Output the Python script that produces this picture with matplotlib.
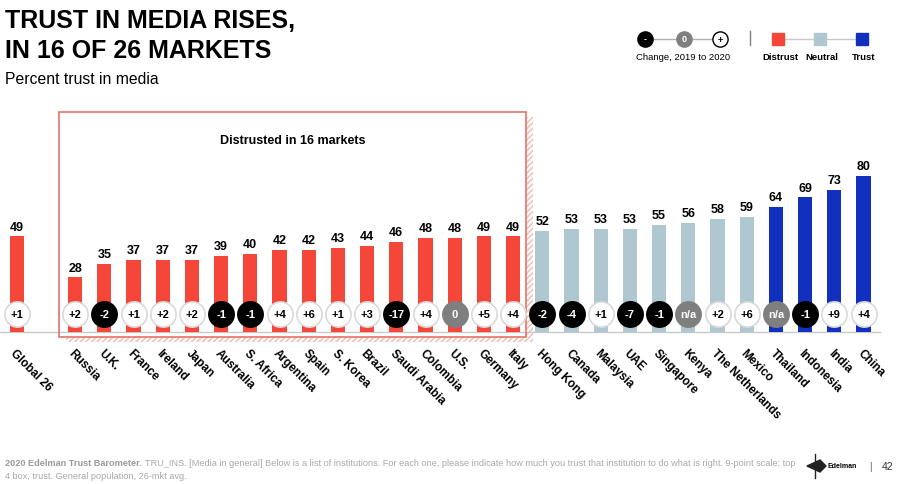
import matplotlib
matplotlib.use("Agg")
import matplotlib.pyplot as plt
from matplotlib.patches import Rectangle, Polygon

plt.rcParams['font.family'] = ['Liberation Sans', 'DejaVu Sans']

# data
markets = ["Global 26", "Russia", "U.K.", "France", "Ireland", "Japan", "Australia",
           "S. Africa", "Argentina", "Spain", "S. Korea", "Brazil", "Saudi Arabia",
           "Colombia", "U.S.", "Germany", "Italy", "Hong Kong", "Canada", "Malaysia",
           "UAE", "Singapore", "Kenya", "The Netherlands", "Mexico", "Thailand",
           "Indonesia", "India", "China"]
trust = [49, 28, 35, 37, 37, 37, 39, 40, 42, 42, 43, 44, 46, 48, 48, 49, 49,
         52, 53, 53, 53, 55, 56, 58, 59, 64, 69, 73, 80]
change = ["+1", "+2", "-2", "+1", "+2", "+2", "-1", "-1", "+4", "+6", "+1", "+3", "-17",
          "+4", "0", "+5", "+4", "-2", "-4", "+1", "-7", "-1", "n/a", "+2", "+6", "n/a",
          "-1", "+9", "+4"]

RED = "#F4473A"
NEUTRAL = "#AFC7D1"
BLUE = "#1230BE"
GRAY = "#7F7F7F"

def bar_color(v):
    if v < 50:
        return RED
    if v < 60:
        return NEUTRAL
    return BLUE

pos = [0] + list(range(2, len(markets) + 1))

W, H = 900, 485
fig = plt.figure(figsize=(9, 4.85), dpi=100)
fig.patch.set_facecolor("white")

# axes placed so that bar i sits at 16.7 + 29.2*i px
x0 = -16.7 / 29.2
x1 = (900 - 16.7) / 29.2
ax = fig.add_axes([0, (H - 333) / H, 1, 195 / H])
ax.set_xlim(x0, x1)
ax.set_ylim(0, 100)
for s in ax.spines.values():
    s.set_visible(False)
ax.tick_params(left=False, labelleft=False, bottom=False)

ax.bar(pos, trust, width=0.48, color=[bar_color(v) for v in trust], zorder=2)
ax.plot([x0, (880 - 16.7) / 29.2], [0, 0], color="#c8c8c8", lw=1, zorder=1, clip_on=False)

for p, v in zip(pos, trust):
    ax.text(p, v + 2, str(v), ha="center", va="bottom", fontsize=9, fontweight="bold")

for p, c in zip(pos, change):
    if c.startswith("-"):
        fc, ec, tc = "black", "black", "white"
    elif c in ("0", "n/a"):
        fc, ec, tc = GRAY, GRAY, "white"
    else:
        fc, ec, tc = "white", "#d9d9d9", "black"
    ax.scatter(p, 9.2, s=330, color=fc, edgecolors=ec, linewidths=1.2, zorder=4, clip_on=False)
    ax.text(p, 9.2, c, ha="center", va="center", fontsize=8, fontweight="bold",
            color=tc, zorder=5)

ax.set_xticks(pos)
ax.set_xticklabels(markets, rotation=-45, ha="left", va="top", rotation_mode="anchor",
                   fontsize=8.5, fontweight="bold")
ax.tick_params(axis="x", pad=7)

# distrusted box with hatched shadow
bx0 = (59 - 16.7) / 29.2
bx1 = (526 - 16.7) / 29.2
by0 = -5 / 1.95
by1 = (333 - 113) / 1.95
dx = 7 / 29.2
dy = 5 / 1.95
shadow = Polygon([(bx1, by1 - dy), (bx1 + dx, by1 - dy), (bx1 + dx, by0 - dy),
                  (bx0 + dx, by0 - dy), (bx0 + dx, by0), (bx1, by0)],
                 closed=True, facecolor="none", edgecolor="#f4b6b0", hatch="//////",
                 lw=0, zorder=0, clip_on=False)
ax.add_patch(shadow)
ax.add_patch(Rectangle((bx0, by0), bx1 - bx0, by1 - by0, fill=False, edgecolor="#E57368",
                       lw=1.2, zorder=3, clip_on=False))
ax.text((bx0 + bx1) / 2, (333 - 141) / 1.95, "Distrusted in 16 markets", ha="center",
        va="center", fontsize=9, fontweight="bold")

# titles
fig.text(5 / W, 1 - 9 / H, "TRUST IN MEDIA RISES,\nIN 16 OF 26 MARKETS", ha="left", va="top",
         fontsize=18, fontweight="bold", linespacing=1.3)
fig.text(5 / W, 1 - 80 / H, "Percent trust in media", ha="left", va="center", fontsize=11.3)

# legend: change circles
lg = fig.add_axes([0, 0, 1, 1], zorder=5)
lg.set_xlim(0, W)
lg.set_ylim(H, 0)
lg.axis("off")
lg.plot([645, 720], [40, 40], color="#b0b0b0", lw=1, zorder=1)
for cx, fc, ec, tc, t in [(645, "black", "black", "white", "-"),
                          (684, GRAY, GRAY, "white", "0"),
                          (720, "white", "black", "black", "+")]:
    lg.scatter(cx, 40, s=120, color=fc, edgecolors=ec, linewidths=1, zorder=2)
    lg.text(cx, 40, t, ha="center", va="center", fontsize=6.5, fontweight="bold", color=tc, zorder=3)
lg.text(683, 57, "Change, 2019 to 2020", ha="center", va="center", fontsize=6.8)
lg.plot([750, 750], [32, 46], color="#808080", lw=1)

# legend: category squares
lg.plot([778, 862], [40, 40], color="#c8c8c8", lw=1, zorder=1)
for cx, col, lab in [(778, RED, "Distrust"), (820, NEUTRAL, "Neutral"), (862, BLUE, "Trust")]:
    lg.add_patch(Rectangle((cx - 6, 34), 12, 12, color=col, zorder=2))
    lg.text(cx + 2, 58, lab, ha="center", va="center", fontsize=6.8, fontweight="bold")

# footer
t_bold = fig.text(5 / W, 1 - 463 / H, "2020 Edelman Trust Barometer.", ha="left", va="center",
                  fontsize=6.55, fontweight="bold", color="#9a9a9a")
fig.canvas.draw()
bb = t_bold.get_window_extent(fig.canvas.get_renderer())
fig.text((bb.x1 + 3) / W, 1 - 463 / H,
         "TRU_INS. [Media in general] Below is a list of institutions. For each one, please indicate "
         "how much you trust that institution to do what is right. 9-point scale; top",
         ha="left", va="center", fontsize=6.55, color="#a8a8a8")
fig.text(5 / W, 1 - 477 / H, "4 box, trust. General population, 26-mkt avg.", ha="left",
         va="center", fontsize=6.55, color="#a8a8a8")
lg.add_patch(Polygon([(807, 467), (820, 461), (826, 467), (820, 473)], closed=True,
                     color="#222222"))
lg.plot([815, 815], [455, 479], color="#222222", lw=1)
lg.text(828, 467, "Edelman", ha="left", va="center", fontsize=5, fontweight="bold")
lg.text(870, 467, "|", ha="center", va="center", fontsize=7, color="#555555")
lg.text(888, 467, "42", ha="center", va="center", fontsize=7.5, color="#333333")

fig.savefig("out.png", dpi=100, facecolor="white")
